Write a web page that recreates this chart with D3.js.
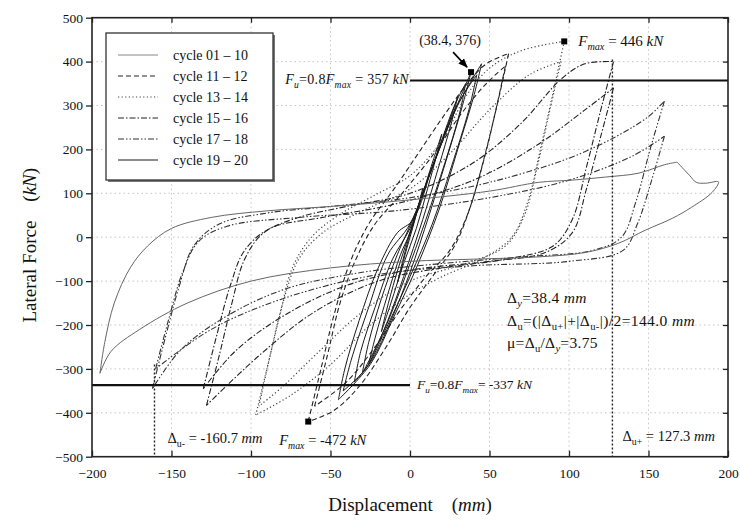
<!DOCTYPE html>
<html><head><meta charset="utf-8">
<script src="https://cdn.jsdelivr.net/npm/d3@7"></script>
<style>
body{margin:0;background:#fff}
svg{display:block}
text{font-family:"Liberation Serif","Times New Roman",serif;fill:#111}
</style>
</head><body>
<svg id="c" width="740" height="522"></svg>
<script>
// ---------- data ----------
const xTicks = [-200,-150,-100,-50,0,50,100,150,200];
const yTicks = [-500,-400,-300,-200,-100,0,100,200,300,400,500];
const legendLabels = ["cycle 01 \u2013 10","cycle 11 \u2013 12","cycle 13 \u2013 14","cycle 15 \u2013 16","cycle 17 \u2013 18","cycle 19 \u2013 20"];

const cycles01to10 = [
  [[-8,-105],[-5,-60],[-1,-5],[4,55],[8,110],[6,80],[2,25],[-2,-25],[-6,-80],[-8,-105]],
  [[-18,-215],[-15,-170],[-9,-90],[-2,-10],[8,100],[15,180],[20,235],[17,190],[11,110],[4,20],[-4,-60],[-12,-150],[-18,-215]],
  [[-26,-290],[-22,-230],[-14,-130],[-6,-40],[0,10],[10,120],[20,215],[30,320],[26,260],[18,160],[8,40],[-4,-90],[-14,-190],[-26,-290]],
  [[-35,-330],[-31,-260],[-22,-160],[-11,-50],[0,20],[12,140],[25,260],[38.4,376],[33,300],[24,190],[12,50],[0,-80],[-12,-190],[-24,-280],[-35,-330]],
  [[-45,-370],[-41,-300],[-32,-190],[-20,-70],[-8,10],[2,40],[15,170],[30,300],[45,395],[40,320],[30,200],[18,60],[4,-70],[-10,-180],[-25,-290],[-45,-370]],
  [[-42,-350],[-37,-280],[-26,-160],[-14,-40],[0,30],[14,160],[28,290],[42,370],[37,290],[26,160],[14,30],[0,-90],[-14,-200],[-28,-300],[-42,-350]],
  [[-30,-310],[-26,-240],[-18,-140],[-8,-40],[4,60],[16,180],[28,300],[35,350],[31,280],[22,170],[10,40],[-3,-90],[-16,-210],[-30,-310]]
];
const cycles11to12 = [
  [[-64,-420],[-56,-300],[-48,-180],[-38,-60],[-26,30],[-10,110],[5,190],[20,270],[35,345],[48,395],[62,418],[56,320],[48,200],[38,70],[28,-20],[14,-90],[0,-160],[-15,-250],[-32,-340],[-48,-395],[-64,-420]],
  [[-60,-385],[-52,-270],[-44,-150],[-34,-50],[-22,30],[-5,100],[15,190],[32,280],[48,350],[60,390],[54,290],[46,170],[36,50],[25,-30],[10,-90],[-5,-160],[-22,-250],[-40,-330],[-60,-385]]
];
const cycles13to14 = [
  [[-97,-405],[-90,-300],[-82,-180],[-74,-70],[-62,0],[-45,50],[-20,100],[0,140],[20,220],[35,320],[50,385],[70,425],[97,446],[90,330],[82,200],[74,80],[64,0],[45,-50],[20,-90],[0,-130],[-25,-200],[-50,-290],[-75,-360],[-97,-405]],
  [[-95,-385],[-88,-270],[-80,-150],[-70,-50],[-55,10],[-30,60],[0,110],[25,190],[50,290],[75,370],[95,400],[88,290],[80,160],[72,50],[60,-20],[35,-60],[0,-100],[-30,-170],[-60,-270],[-80,-340],[-95,-385]]
];
const cycles15to16 = [
  [[-128,-383],[-120,-270],[-112,-150],[-104,-50],[-92,10],[-70,45],[-40,70],[0,100],[40,170],[70,260],[95,360],[110,395],[128,400],[120,290],[111,160],[102,40],[90,-20],[60,-50],[20,-70],[-20,-100],[-60,-170],[-95,-270],[-128,-383]],
  [[-130,-345],[-122,-230],[-113,-110],[-104,-30],[-88,20],[-55,45],[-10,75],[40,130],[80,210],[110,290],[128,340],[120,230],[111,110],[102,10],[85,-35],[50,-55],[0,-75],[-40,-110],[-80,-180],[-110,-260],[-130,-345]]
];
const cycles17to18 = [
  [[-162,-345],[-154,-230],[-145,-110],[-136,-20],[-120,30],[-90,55],[-50,70],[0,90],[50,125],[100,180],[130,230],[150,275],[160,310],[151,200],[142,80],[133,0],[115,-30],[70,-45],[20,-60],[-30,-80],[-80,-120],[-120,-190],[-145,-260],[-162,-345]],
  [[-160,-300],[-152,-190],[-143,-80],[-133,-10],[-115,25],[-70,45],[-10,60],[50,90],[100,130],[140,185],[160,230],[152,130],[143,30],[134,-30],[100,-55],[40,-65],[-20,-85],[-80,-140],[-125,-210],[-160,-300]]
];
const cycles19to20 = [
  [[-195,-310],[-192,-240],[-186,-150],[-176,-70],[-165,-20],[-150,20],[-125,45],[-90,60],[-50,70],[0,85],[50,105],[81,125],[102,130],[123,137],[144,146],[160,165],[168,171],[176,140],[180,125],[186,123],[194,126],[190,102],[177,68],[165,43],[148,16],[131,-14],[110,-35],[80,-45],[40,-50],[0,-55],[-50,-70],[-100,-100],[-140,-150],[-170,-210],[-188,-260],[-195,-310]]
];

const yieldPoint = [38.4, 376];
const fmaxPos = [97, 446];
const fmaxNeg = [-64, -420];
const fuPos = 357, fuNeg = -337;
const deltaUneg = -160.7, deltaUpos = 127.3;

// ---------- setup ----------
const svg = d3.select("#c");
const x = d3.scaleLinear().domain([-200,200]).range([92,728]);
const y = d3.scaleLinear().domain([-500,500]).range([456.7,17.7]);

// grid
const grid = svg.append("g");
grid.selectAll("line.gx").data(xTicks.slice(1,-1)).join("line")
  .attr("x1",d=>x(d)).attr("x2",d=>x(d)).attr("y1",y(500)).attr("y2",y(-500))
  .attr("stroke","#b8b8b8").attr("stroke-width",0.8).attr("stroke-dasharray","1.5,3");
grid.selectAll("line.gy").data(yTicks.slice(1,-1)).join("line")
  .attr("y1",d=>y(d)).attr("y2",d=>y(d)).attr("x1",x(-200)).attr("x2",x(200))
  .attr("stroke","#b8b8b8").attr("stroke-width",0.8).attr("stroke-dasharray","1.5,3");

// split each loop at its force peak so that peaks stay sharp
function branches(loop){
  let im = 0;
  loop.forEach((p,i)=>{ if(p[1]>loop[im][1]) im=i; });
  return [loop.slice(0,im+1), loop.slice(im)];
}
const line = d3.line().x(d=>x(d[0])).y(d=>y(d[1])).curve(d3.curveCatmullRom.alpha(0.5));
const series = [
  {data:cycles01to10, color:"#1a1a1a", w:1.0, dash:null},
  {data:cycles11to12, color:"#222", w:1.1, dash:"5,3"},
  {data:cycles13to14, color:"#444", w:1.2, dash:"1.2,2.4"},
  {data:cycles15to16, color:"#222", w:1.1, dash:"6,2,1.5,2"},
  {data:cycles17to18, color:"#333", w:1.1, dash:"6,2,1.5,2,1.5,2"},
  {data:cycles19to20, color:"#666", w:1.0, dash:null}
];
const sg = svg.append("g").attr("fill","none");
series.forEach(s=>{
  sg.append("g").selectAll("path").data(s.data.flatMap(branches)).join("path")
    .attr("d",line).attr("stroke",s.color).attr("stroke-width",s.w)
    .attr("stroke-dasharray",s.dash);
});

// reference lines
svg.append("line").attr("x1",x(0)).attr("x2",x(200)).attr("y1",y(fuPos)).attr("y2",y(fuPos))
  .attr("stroke","#111").attr("stroke-width",2.2);
svg.append("line").attr("x1",x(-200)).attr("x2",x(0)).attr("y1",y(fuNeg)).attr("y2",y(fuNeg))
  .attr("stroke","#111").attr("stroke-width",2.2);
svg.append("line").attr("x1",x(deltaUpos)).attr("x2",x(deltaUpos)).attr("y1",y(405)).attr("y2",y(-500))
  .attr("stroke","#222").attr("stroke-width",1.4).attr("stroke-dasharray","2,2");
svg.append("line").attr("x1",x(deltaUneg)).attr("x2",x(deltaUneg)).attr("y1",y(-290)).attr("y2",y(-500))
  .attr("stroke","#222").attr("stroke-width",1.4).attr("stroke-dasharray","2,2");

// markers
svg.selectAll("rect.mk").data([yieldPoint,fmaxPos,fmaxNeg]).join("rect")
  .attr("x",d=>x(d[0])-3).attr("y",d=>y(d[1])-3).attr("width",6).attr("height",6).attr("fill","#000");

// arrow to yield point
svg.append("defs").append("marker").attr("id","ah").attr("viewBox","0 0 10 10")
  .attr("refX",9).attr("refY",5).attr("markerWidth",6).attr("markerHeight",6).attr("orient","auto")
  .append("path").attr("d","M0,1L10,5L0,9z").attr("fill","#000");
svg.append("line").attr("x1",x(yieldPoint[0])-18).attr("y1",y(yieldPoint[1])-20)
  .attr("x2",x(yieldPoint[0])-4).attr("y2",y(yieldPoint[1])-5)
  .attr("stroke","#000").attr("stroke-width",1.6).attr("marker-end","url(#ah)");

// frame and axes
svg.append("rect").attr("x",x(-200)).attr("y",y(500)).attr("width",x(200)-x(-200)).attr("height",y(-500)-y(500))
  .attr("fill","none").attr("stroke","#222").attr("stroke-width",1.6);
const ax = svg.append("g").attr("transform",`translate(0,${y(-500)})`)
  .call(d3.axisBottom(x).tickValues(xTicks).tickSizeInner(-6).tickSizeOuter(0).tickPadding(12).tickFormat(d3.format("d")));
const ay = svg.append("g").attr("transform",`translate(${x(-200)},0)`)
  .call(d3.axisLeft(y).tickValues(yTicks).tickSizeInner(6).tickSizeOuter(0).tickPadding(3).tickFormat(d3.format("d")));
svg.append("g").attr("transform",`translate(0,${y(500)})`)
  .call(d3.axisTop(x).tickValues(xTicks).tickSizeInner(-5).tickSizeOuter(0).tickFormat(""));
svg.append("g").attr("transform",`translate(${x(200)},0)`)
  .call(d3.axisRight(y).tickValues(yTicks).tickSizeInner(-5).tickSizeOuter(0).tickFormat(""));
svg.selectAll(".domain").remove();
svg.selectAll(".tick line").attr("stroke","#222").attr("stroke-width",1.3);
[ax,ay].forEach(a=>a.selectAll("text").attr("font-family","Liberation Serif").attr("font-size",13.5).attr("fill","#222"));

// axis titles
svg.append("text").attr("x",x(0)).attr("y",511).attr("text-anchor","middle").attr("font-size",19)
  .call(t=>{t.append("tspan").text("Displacement\u2002\u2002(");t.append("tspan").attr("font-style","italic").text("mm");t.append("tspan").text(")");});
svg.append("text").attr("transform",`translate(36,${y(0)+8}) rotate(-90)`).attr("text-anchor","middle").attr("font-size",19)
  .call(t=>{t.append("tspan").text("Lateral Force\u2002\u2002(");t.append("tspan").attr("font-style","italic").text("kN");t.append("tspan").text(")");});

// rich text helper: parts = [text, style] ; style: "" | "i" | "s" (subscript) | "si"
function rich(px, py, parts, size, anchor, ls){
  const t = svg.append("text").attr("x",px).attr("y",py).attr("font-size",size).attr("text-anchor",anchor||"start");
  if(ls) t.attr("letter-spacing",ls);
  let sub=false;
  parts.forEach(([s,st])=>{
    const ts = t.append("tspan").text(s);
    const isSub = st.includes("s");
    if(st.includes("i")) ts.attr("font-style","italic");
    if(isSub){ ts.attr("font-size",size*0.68); if(!sub) ts.attr("dy",3.5); }
    else if(sub){ ts.attr("dy",-3.5); }
    sub=isSub;
  });
  return t;
}

// annotations
rich(x(yieldPoint[0])-21, y(yieldPoint[1])-27, [["(38.4, 376)",""]], 14, "middle");
rich(x(fmaxPos[0])+14, y(fmaxPos[1])+5, [["F","i"],["max","si"],[" = 446 ",""],["kN","i"]], 15);
rich(x(0)-1, y(fuPos)+4, [["F","i"],["u","si"],["=0.8",""],["F","i"],["max","si"],[" = 357 ",""],["kN","i"]], 14, "end", 0.3);
rich(x(0)+7, y(fuNeg)+4, [["F","i"],["u","si"],["=0.8",""],["F","i"],["max","si"],["= -337 ",""],["kN","i"]], 13.5);
rich(x(fmaxNeg[0])-29, 445, [["F","i"],["max","si"],[" = -472 ",""],["kN","i"]], 14.5);
rich(x(deltaUneg)+13, 443, [["\u0394","" ],["u-","s"],[" = -160.7 ",""],["mm","i"]], 14.5);
rich(x(deltaUpos)+10, 441, [["\u0394",""],["u+","s"],[" = 127.3 ",""],["mm","i"]], 14.5);
rich(507, 303, [["\u0394",""],["y","si"],["=38.4 ",""],["mm","i"]], 15.5, "start", 0.3);
rich(507, 326, [["\u0394",""],["u","s"],["=(|\u0394",""],["u+","s"],["|+|\u0394",""],["u-","s"],["|)/2=144.0 ",""],["mm","i"]], 15.5, "start", 0.4);
rich(507, 348, [["\u03bc=\u0394",""],["u","s"],["/\u0394",""],["y","si"],["=3.75",""]], 15.5, "start", 0.3);

// legend
const lg = svg.append("g");
lg.append("rect").attr("x",108).attr("y",35).attr("width",167).attr("height",147).attr("fill","#777");
lg.append("rect").attr("x",106).attr("y",33).attr("width",167).attr("height",147).attr("fill","#fff").attr("stroke","#333").attr("stroke-width",1.3);
legendLabels.forEach((lab,i)=>{
  const yy = 55 + i*21;
  const s = series[i];
  lg.append("line").attr("x1",118).attr("x2",158).attr("y1",yy).attr("y2",yy)
    .attr("stroke", i===0 ? "#888" : s.color).attr("stroke-width", i===5?1.3:s.w)
    .attr("stroke-dasharray",s.dash);
  lg.append("text").attr("x",173).attr("y",yy+4.5).attr("font-size",14).text(lab);
});
</script>
</body></html>
